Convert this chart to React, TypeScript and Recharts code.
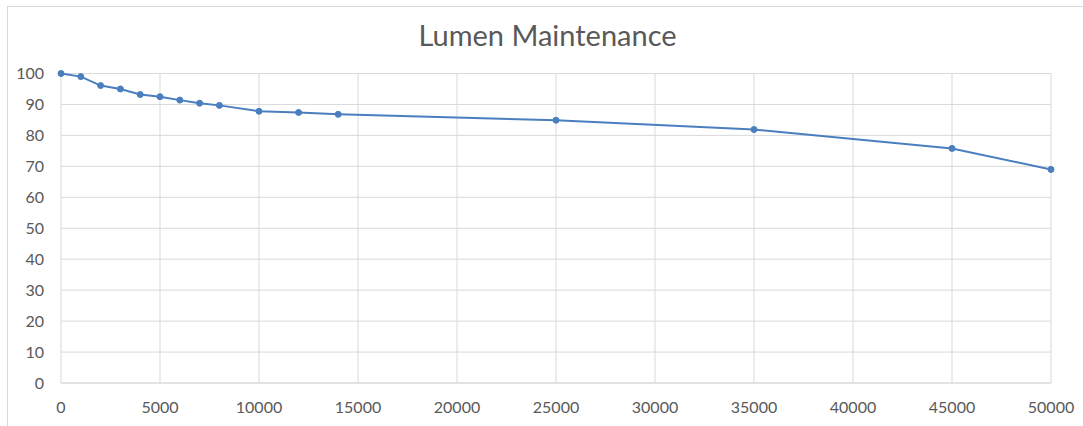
import React from "react";
import { LineChart, Line, XAxis, YAxis, CartesianGrid } from "recharts";

const hours = [0, 1000, 2000, 3000, 4000, 5000, 6000, 7000, 8000, 10000, 12000, 14000, 25000, 35000, 45000, 50000];
const lumen = [100, 99, 96.1, 95, 93.2, 92.5, 91.4, 90.4, 89.7, 87.8, 87.4, 86.8, 84.9, 81.9, 75.8, 69];
const xTicks = [0, 5000, 10000, 15000, 20000, 25000, 30000, 35000, 40000, 45000, 50000];
const yTicks = [0, 10, 20, 30, 40, 50, 60, 70, 80, 90, 100];
const title = "Lumen Maintenance";

const data = hours.map((h, i) => ({ hours: h, lumen: lumen[i] }));

const FONT = "Lato, 'Open Sans', sans-serif";
const TEXT = "#595959";
const GRID = "#d9d9d9";
const BLUE = "#4A7EBF";

export default function App() {
  return (
    <div style={{ position: "absolute", left: 0, top: 0, width: 1083, height: 426, background: "#fff", overflow: "hidden" }}>
      <div
        style={{
          position: "absolute",
          left: 7,
          top: 6,
          width: 1200,
          height: 600,
          border: `1px solid ${GRID}`,
          boxSizing: "border-box",
        }}
      />
      <svg style={{ position: "absolute", left: 0, top: 0 }} width={1083} height={70}>
        <text x={547.5} y={46} textAnchor="middle" fontFamily={FONT} fontSize={29} fill={TEXT}>
          {title}
        </text>
      </svg>
      <div style={{ position: "absolute", left: 0, top: 0 }}>
        <LineChart width={1083} height={426} data={data} margin={{ top: 73.5, right: 32, bottom: 0, left: 0 }}>
          <CartesianGrid stroke={GRID} strokeWidth={1} vertical horizontal />
          <XAxis
            dataKey="hours"
            type="number"
            domain={[0, 50000]}
            ticks={xTicks}
            height={43}
            tickLine={false}
            tickSize={0}
            tickMargin={19}
            axisLine={{ stroke: GRID }}
            tick={{ fill: TEXT, fontSize: 16, fontFamily: FONT }}
            interval={0}
          />
          <YAxis
            type="number"
            domain={[0, 100]}
            ticks={yTicks}
            width={61}
            tickLine={false}
            tickSize={0}
            tickMargin={17}
            axisLine={false}
            tick={{ fill: TEXT, fontSize: 16, fontFamily: FONT }}
            interval={0}
          />
          <Line
            type="linear"
            dataKey="lumen"
            stroke={BLUE}
            strokeWidth={2}
            dot={{ r: 3, fill: BLUE, stroke: BLUE, strokeWidth: 1 }}
            isAnimationActive={false}
          />
        </LineChart>
      </div>
    </div>
  );
}
